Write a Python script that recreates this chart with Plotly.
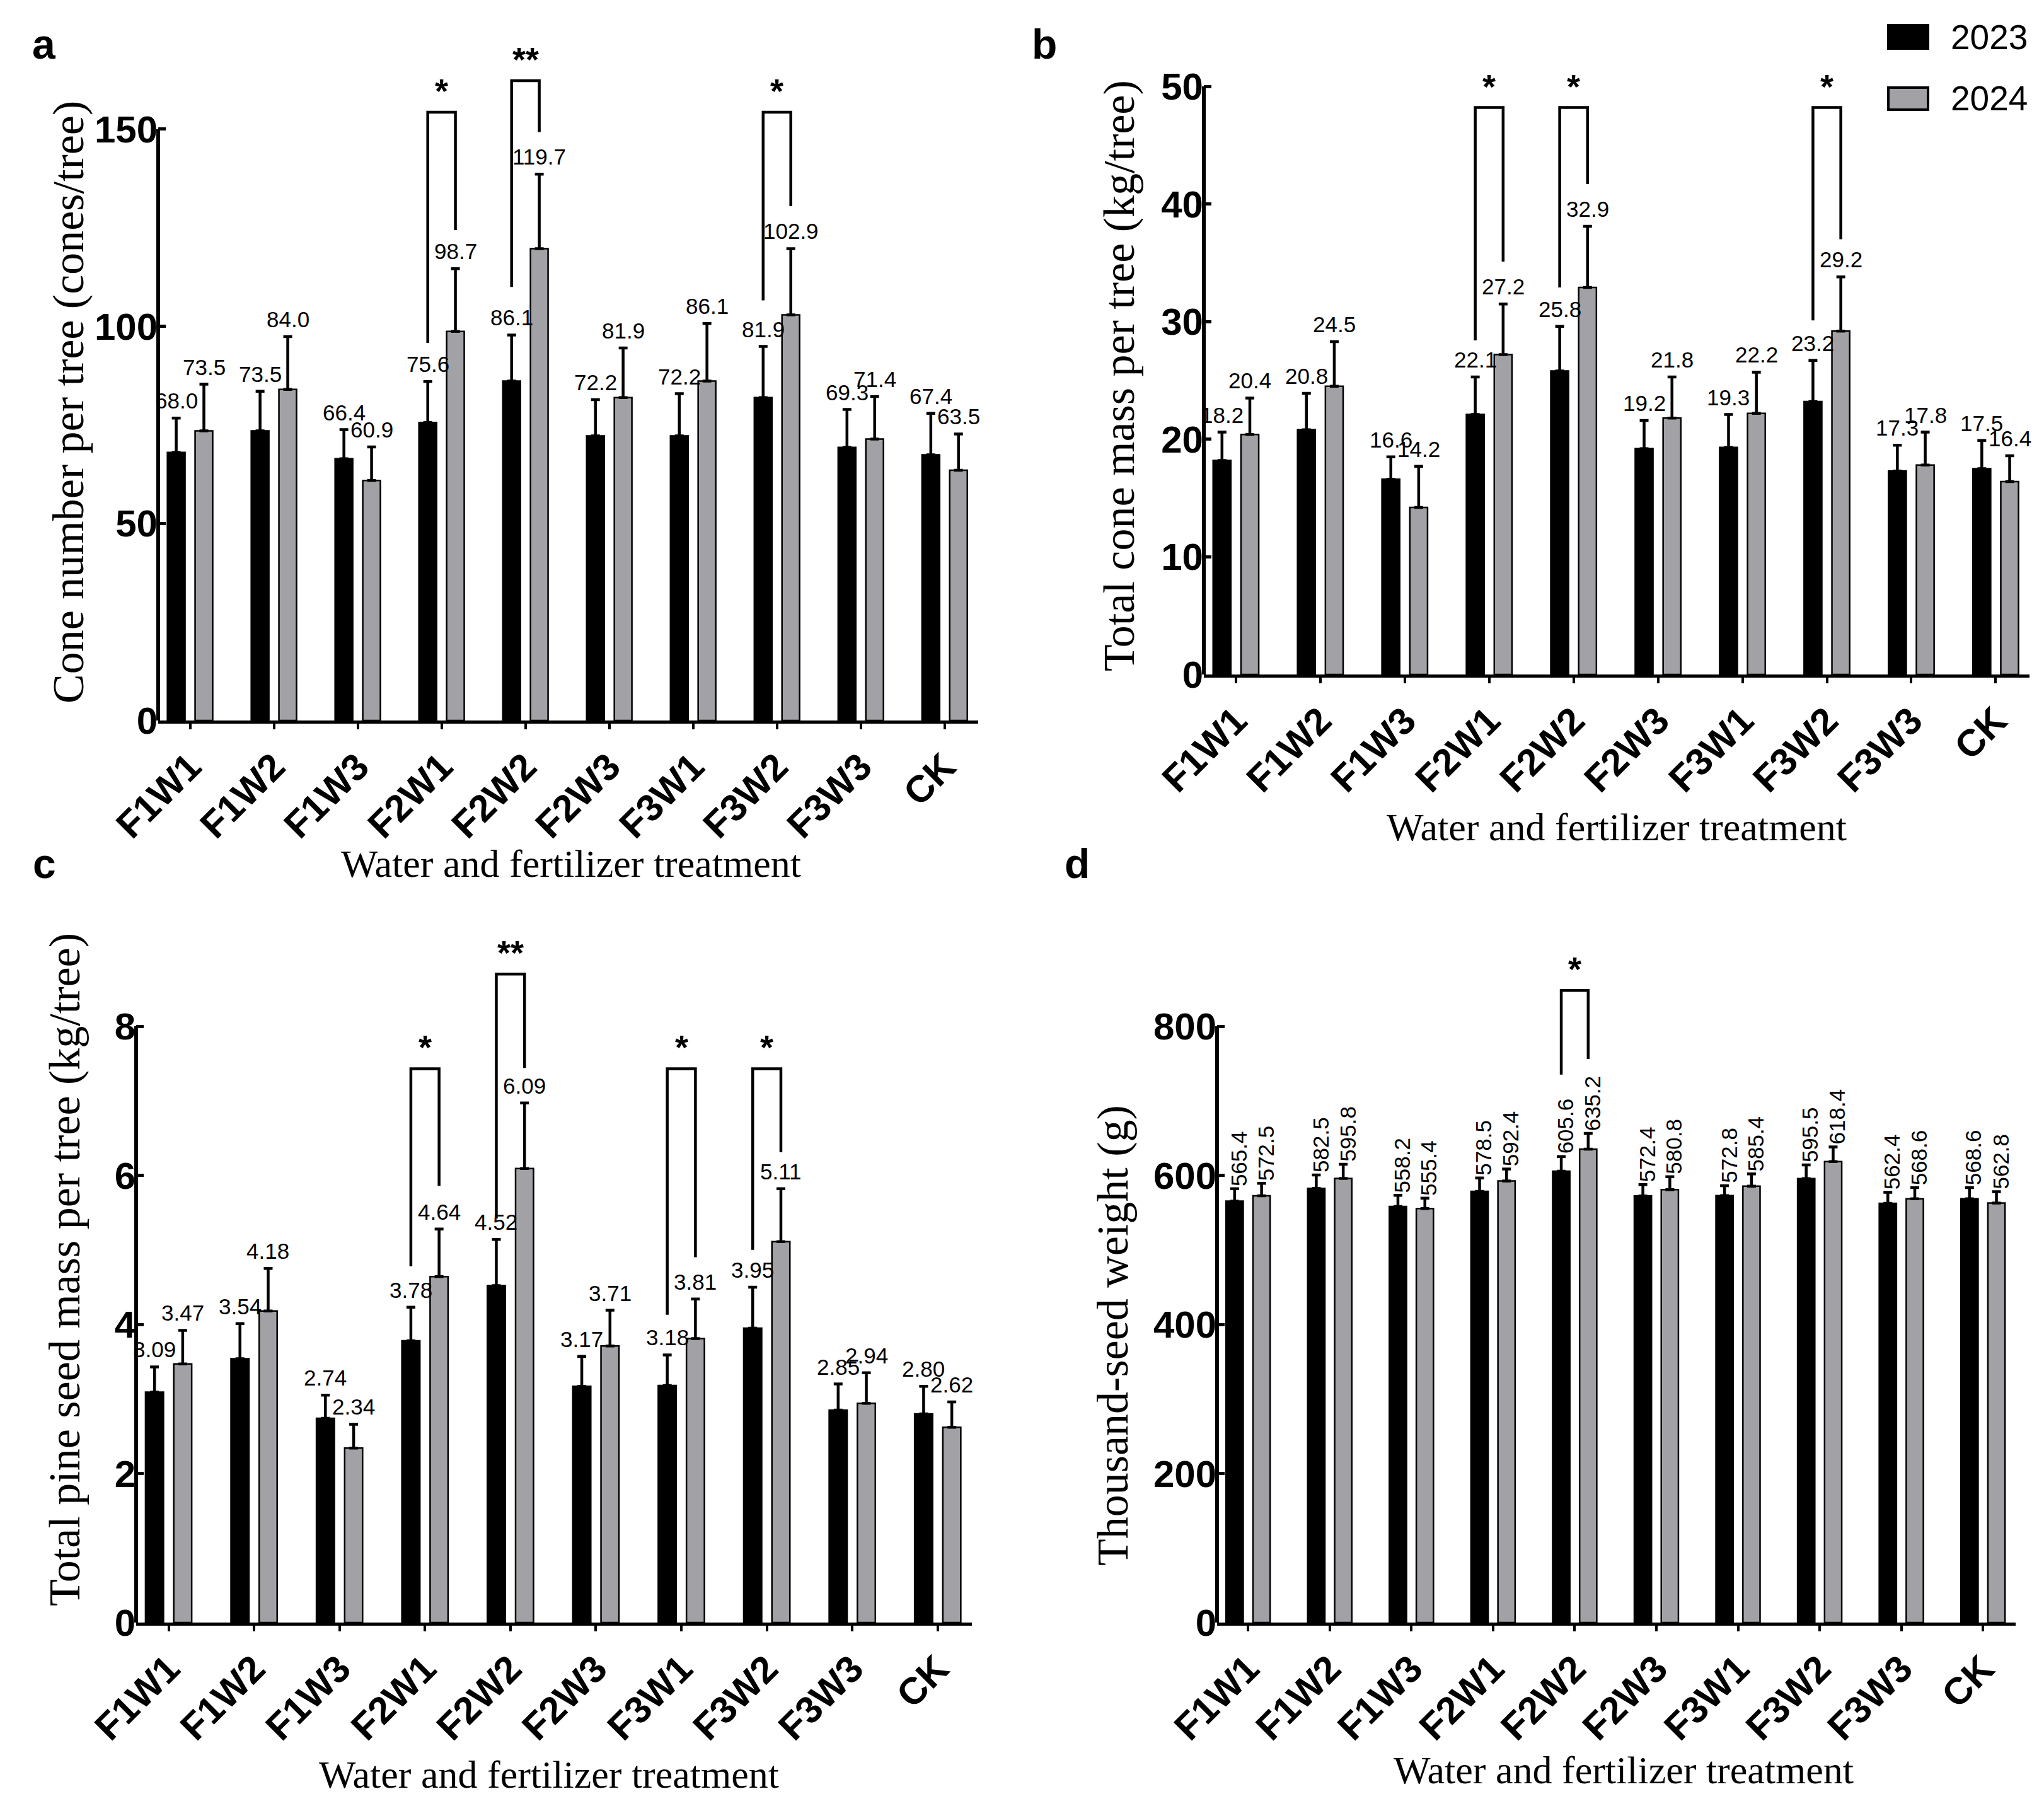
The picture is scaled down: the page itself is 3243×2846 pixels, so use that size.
import plotly.graph_objects as go

W, H = 3243, 2846

# ---- data ----
cats = ["F1W1", "F1W2", "F1W3", "F2W1", "F2W2", "F2W3", "F3W1", "F3W2", "F3W3", "CK"]

cone_2023 = [68.0, 73.5, 66.4, 75.6, 86.1, 72.2, 72.2, 81.9, 69.3, 67.4]
cone_2024 = [73.5, 84.0, 60.9, 98.7, 119.7, 81.9, 86.1, 102.9, 71.4, 63.5]
cone_err_2023 = [8.7, 10.0, 7.4, 10.4, 11.7, 9.2, 10.7, 13.0, 9.6, 10.5]
cone_err_2024 = [11.8, 13.4, 8.5, 15.9, 18.9, 12.6, 14.6, 16.8, 10.8, 9.2]

mass_2023 = [18.2, 20.8, 16.6, 22.1, 25.8, 19.2, 19.3, 23.2, 17.3, 17.5]
mass_2024 = [20.4, 24.5, 14.2, 27.2, 32.9, 21.8, 22.2, 29.2, 17.8, 16.4]
mass_err_2023 = [2.4, 3.1, 1.9, 3.2, 3.8, 2.4, 2.8, 3.5, 2.2, 2.4]
mass_err_2024 = [3.1, 3.8, 3.5, 4.3, 5.2, 3.5, 3.5, 4.6, 2.8, 2.2]

seed_2023 = [3.09, 3.54, 2.74, 3.78, 4.52, 3.17, 3.18, 3.95, 2.85, 2.80]
seed_2024 = [3.47, 4.18, 2.34, 4.64, 6.09, 3.71, 3.81, 5.11, 2.94, 2.62]
seed_err_2023 = [0.34, 0.47, 0.31, 0.45, 0.62, 0.40, 0.41, 0.55, 0.35, 0.37]
seed_err_2024 = [0.45, 0.57, 0.32, 0.64, 0.88, 0.48, 0.53, 0.71, 0.41, 0.34]

tsw_2023 = [565.4, 582.5, 558.2, 578.5, 605.6, 572.4, 572.8, 595.5, 562.4, 568.6]
tsw_2024 = [572.5, 595.8, 555.4, 592.4, 635.2, 580.8, 585.4, 618.4, 568.6, 562.8]
tsw_err_2023 = [16.6, 17.9, 15.0, 17.9, 19.5, 15.2, 13.2, 18.5, 14.8, 15.0]
tsw_err_2024 = [16.7, 19.0, 13.9, 16.0, 21.0, 17.2, 16.6, 19.6, 15.0, 15.2]

years = ["2023", "2024"]

# significance brackets: (category index, stars, left bottom, top, right bottom)
sig_a = [(3, "*", 95.8, 154.3, 124.4), (4, "**", 110.0, 162.3, 149.3), (7, "*", 106.6, 154.3, 130.5)]
sig_b = [(3, "*", 28.4, 48.2, 35.1), (4, "*", 32.9, 48.2, 41.7), (7, "*", 30.1, 48.2, 37.0)]
sig_c = [(3, "*", 4.78, 7.43, 5.86), (4, "**", 5.42, 8.70, 7.44),
         (6, "*", 4.13, 7.43, 4.90), (7, "*", 5.00, 7.43, 6.31)]
sig_d = [(4, "*", 735, 848, 756)]

panels = [
    dict(v23=cone_2023, v24=cone_2024, e23=cone_err_2023, e24=cone_err_2024, fmt="{:.1f}",
         ytitle="Cone number per tree (cones/tree)", yticks=[0, 50, 100, 150], sig=sig_a,
         box=(243, 1544, 1135, 197), top=150, rtop=172, rot=False,
         letter=("a", 62, 62), ytpos=(100, 630), xtpos=(898, 1362)),
    dict(v23=mass_2023, v24=mass_2024, e23=mass_err_2023, e24=mass_err_2024, fmt="{:.1f}",
         ytitle="Total cone mass per tree (kg/tree)", yticks=[0, 10, 20, 30, 40, 50], sig=sig_b,
         box=(1902, 3212, 1062, 129), top=50, rtop=54, rot=False,
         letter=("b", 1649, 62), ytpos=(1767, 588), xtpos=(2557, 1304)),
    dict(v23=seed_2023, v24=seed_2024, e23=seed_err_2023, e24=seed_err_2024, fmt="{:.2f}",
         ytitle="Total pine seed mass per tree (kg/tree)", yticks=[0, 2, 4, 6, 8], sig=sig_c,
         box=(208, 1534, 2566, 1620), top=8, rtop=9.5, rot=False,
         letter=("c", 62, 1362), ytpos=(94, 2006), xtpos=(863, 2807)),
    dict(v23=tsw_2023, v24=tsw_2024, e23=tsw_err_2023, e24=tsw_err_2024, fmt="{:.1f}",
         ytitle="Thousand-seed weight (g)", yticks=[0, 200, 400, 600, 800], sig=sig_d,
         box=(1923, 3190, 2566, 1620), top=800, rtop=920, rot=True,
         letter=("d", 1701, 1362), ytpos=(1757, 2110), xtpos=(2568, 2800)),
]

SANS = "Liberation Sans, Arial, sans-serif"
SERIF = "Liberation Serif, Times New Roman, serif"
GRAY = "#a2a2a6"
XR = [-0.38, 9.4]
OFF = [-0.27, 0.06]
BW = 0.21
CENTER = [OFF[0] + BW / 2, OFF[1] + BW / 2]

fig = go.Figure()
shapes, annotations = [], []
idx = list(range(len(cats)))


def px(v):
    return v / W


def py(v):
    return 1 - v / H


for k, p in enumerate(panels):
    n = "" if k == 0 else str(k + 1)
    xa, ya = "x" + n, "y" + n
    x0, x1, y0, ytop = p["box"]
    unit = (y0 - ytop) / p["top"]
    ytop_range = y0 - p["rtop"] * unit

    for vals, errs, color, off in [(p["v23"], p["e23"], "black", OFF[0]),
                                   (p["v24"], p["e24"], GRAY, OFF[1])]:
        fig.add_trace(go.Bar(
            x=idx, y=vals, width=BW, offset=off, xaxis=xa, yaxis=ya,
            marker=dict(color=color, line=dict(color="black", width=2.5)),
            error_y=dict(type="data", array=errs, arrayminus=[0] * len(errs), symmetric=False,
                         color="black", thickness=4.5, width=7),
            showlegend=False))

    fig.layout["xaxis" + n] = dict(
        domain=[px(x0), px(x1)], anchor=ya, range=XR, tickvals=idx, ticktext=cats,
        tickangle=-45, ticks="outside", ticklen=9, tickwidth=4, tickcolor="black",
        showline=True, linewidth=5, linecolor="black", showgrid=False, zeroline=False,
        automargin=False,
        tickfont=dict(family=SANS, size=60, color="black", weight="bold"))
    fig.layout["yaxis" + n] = dict(
        domain=[py(y0), py(ytop_range)], anchor=xa, range=[0, p["rtop"]],
        tickvals=p["yticks"], ticks="inside", ticklen=12, tickwidth=5, tickcolor="black",
        showline=False, showgrid=False, zeroline=False, automargin=False,
        tickfont=dict(family=SANS, size=60, color="black", weight="bold"))

    # y axis line only up to the top tick
    shapes.append(dict(type="line", xref=xa + " domain", yref=ya, x0=0, x1=0, y0=0, y1=p["top"],
                       line=dict(color="black", width=6)))

    # value labels
    for j, (vals, errs) in enumerate([(p["v23"], p["e23"]), (p["v24"], p["e24"])]):
        for i in idx:
            if p["rot"]:
                annotations.append(dict(
                    x=i + CENTER[j] + 0.05, y=vals[i] + errs[i], xref=xa, yref=ya,
                    text=p["fmt"].format(vals[i]), showarrow=False, textangle=-90,
                    xanchor="center", yanchor="bottom", yshift=2,
                    font=dict(family=SANS, size=35, color="black")))
            else:
                annotations.append(dict(
                    x=i + CENTER[j], y=vals[i] + errs[i], xref=xa, yref=ya,
                    text=p["fmt"].format(vals[i]), showarrow=False,
                    xanchor="center", yanchor="bottom", yshift=6,
                    font=dict(family=SANS, size=35, color="black")))

    # significance brackets
    for ci, star, lb, top, rb in p["sig"]:
        xl, xr = ci + CENTER[0], ci + CENTER[1]
        shapes.append(dict(type="path", xref=xa, yref=ya,
                           path=f"M {xl},{lb} L {xl},{top} L {xr},{top} L {xr},{rb}",
                           line=dict(color="black", width=4.5)))
        annotations.append(dict(x=ci, y=top, xref=xa, yref=ya, text=star, showarrow=False,
                                xanchor="center", yanchor="bottom", yshift=2,
                                font=dict(family=SANS, size=54, color="black", weight="bold")))

    # titles and panel letter
    tx, ty = p["ytpos"]
    annotations.append(dict(x=px(tx), y=py(ty), xref="paper", yref="paper", text=p["ytitle"],
                            showarrow=False, textangle=-90, xanchor="center", yanchor="middle",
                            font=dict(family=SERIF, size=70, color="black")))
    tx, ty = p["xtpos"]
    annotations.append(dict(x=px(tx), y=py(ty), xref="paper", yref="paper",
                            text="Water and fertilizer treatment", showarrow=False,
                            xanchor="center", yanchor="middle",
                            font=dict(family=SERIF, size=62, color="black")))
    lt, lx, ly = p["letter"]
    annotations.append(dict(x=px(lx), y=py(ly), xref="paper", yref="paper", text=lt,
                            showarrow=False, xanchor="center", yanchor="middle",
                            font=dict(family=SANS, size=66, color="black", weight="bold")))

# legend drawn by hand so the swatches can be as large as the original
for (yl, color, yt, yb) in [(years[0], "black", 32, 69), (years[1], GRAY, 131, 166)]:
    shapes.append(dict(type="rect", xref="paper", yref="paper", x0=px(2988), x1=px(3051),
                       y0=py(yb), y1=py(yt), fillcolor=color, line=dict(color="black", width=4)))
    annotations.append(dict(x=px(3085), y=py((yt + yb) / 2), xref="paper", yref="paper", text=yl,
                            showarrow=False, xanchor="left", yanchor="middle",
                            font=dict(family=SANS, size=55, color="black")))

fig.update_layout(
    width=W, height=H, autosize=False, barmode="overlay",
    margin=dict(l=0, r=0, t=0, b=0, pad=0, autoexpand=False),
    paper_bgcolor="white", plot_bgcolor="white",
    shapes=shapes, annotations=annotations, showlegend=False)

fig.write_html("out.html")
